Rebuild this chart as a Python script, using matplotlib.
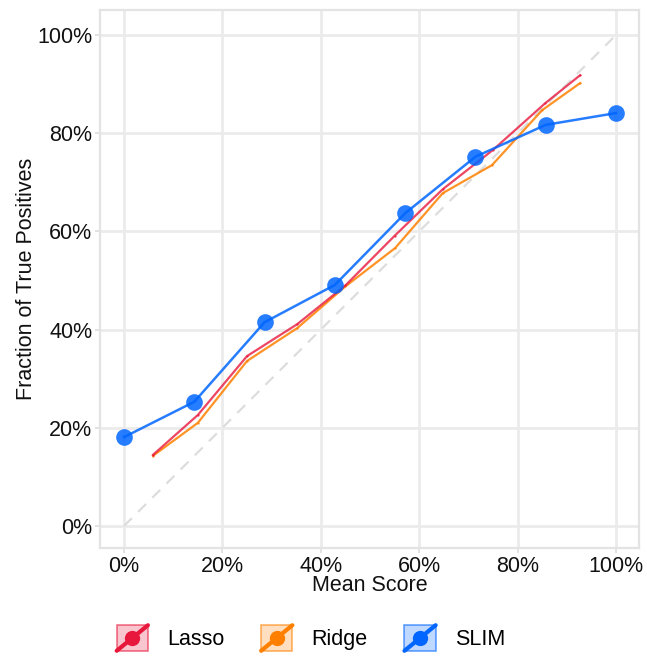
import matplotlib
matplotlib.use("Agg")
import matplotlib.pyplot as plt
from matplotlib.legend_handler import HandlerBase
from matplotlib.patches import Rectangle
from matplotlib.lines import Line2D
from matplotlib.ticker import PercentFormatter, FixedLocator

plt.rcParams['font.family'] = ['Liberation Sans', 'DejaVu Sans']

# ---- data ----
methods = ["Lasso", "Ridge", "SLIM"]
lasso_x = [0.059, 0.150, 0.250, 0.352, 0.450, 0.550, 0.648, 0.750, 0.856, 0.927]
lasso_y = [0.145, 0.226, 0.346, 0.411, 0.490, 0.591, 0.686, 0.766, 0.861, 0.918]
ridge_x = [0.059, 0.150, 0.250, 0.352, 0.450, 0.551, 0.648, 0.748, 0.850, 0.927]
ridge_y = [0.143, 0.210, 0.336, 0.403, 0.488, 0.566, 0.678, 0.735, 0.847, 0.902]
slim_x = [0.0, 1/7, 2/7, 3/7, 4/7, 5/7, 6/7, 1.0]
slim_y = [0.181, 0.253, 0.415, 0.491, 0.637, 0.752, 0.817, 0.841]
ref_line = [0.0, 1.0]
ticks = [0.0, 0.2, 0.4, 0.6, 0.8, 1.0]

colors = {"Lasso": "#E8183C", "Ridge": "#FF8000", "SLIM": "#0066FF"}

fig = plt.figure(figsize=(6.47, 6.59), dpi=100)
ax = fig.add_axes([100/647, 1 - 548/659, 539/647, 538/659])

grid_c = "#EBEBEB"
ax.set_xlim(-24/492, 515/492)
ax.set_ylim(-22/491, 516/491)
ax.xaxis.set_major_locator(FixedLocator(ticks))
ax.yaxis.set_major_locator(FixedLocator(ticks))
ax.xaxis.set_major_formatter(PercentFormatter(1.0, decimals=0))
ax.yaxis.set_major_formatter(PercentFormatter(1.0, decimals=0))
ax.grid(True, color=grid_c, lw=2.0, zorder=0)
ax.set_axisbelow(True)
for s in ax.spines.values():
    s.set_color("#E3E3E3")
    s.set_linewidth(1.6)
ax.tick_params(axis='both', length=3.5, width=1.2, color="#DDDDDD",
               labelsize=15.5, labelcolor="#111111", pad=2)

ax.plot(ref_line, ref_line, color="#DDDDDD", lw=1.6, ls=(0, (5, 4)), zorder=1)

h_ridge, = ax.plot(ridge_x, ridge_y, color=colors["Ridge"], lw=1.6, alpha=0.85,
                   marker='o', ms=1.6, mew=0, zorder=2)
h_lasso, = ax.plot(lasso_x, lasso_y, color=colors["Lasso"], lw=1.6, alpha=0.8,
                   marker='o', ms=1.6, mew=0, zorder=3)
h_slim, = ax.plot(slim_x, slim_y, color=colors["SLIM"], lw=1.8, alpha=0.85,
                  marker='o', ms=12, mew=0, zorder=4)

ax.set_xlabel("Mean Score", fontsize=15.5, labelpad=-1, color="#111111")
ax.set_ylabel("Fraction of True Positives", fontsize=15.5, labelpad=0, color="#111111")


class KeyHandler(HandlerBase):
    def __init__(self, color):
        super().__init__()
        self.color = color

    def create_artists(self, legend, orig_handle, xdescent, ydescent,
                       width, height, fontsize, trans):
        x0, y0 = -xdescent, -ydescent
        rect = Rectangle((x0, y0), width, height, facecolor=self.color,
                         alpha=0.25, edgecolor='none', transform=trans)
        edge = Rectangle((x0, y0), width, height, facecolor='none',
                         edgecolor=self.color, alpha=0.6, lw=1.2, transform=trans)
        line = Line2D([x0, x0 + width], [y0, y0 + height], color=self.color,
                      lw=3, transform=trans, solid_capstyle='round')
        dot = Line2D([x0 + width / 2], [y0 + height / 2], marker='o', ms=11,
                     mew=0, color=self.color, lw=0, transform=trans)
        return [rect, edge, line, dot]


handles = [h_lasso, h_ridge, h_slim]
hmap = {h: KeyHandler(colors[m]) for h, m in zip(handles, methods)}
fig.legend(handles, methods, handler_map=hmap, loc='center',
           bbox_to_anchor=(311/647, 1 - 638/659), ncol=3, frameon=False,
           fontsize=15.5, handlelength=1.45, handleheight=1.45,
           handletextpad=0.9, columnspacing=1.7)

fig.savefig("out.png", dpi=100)
